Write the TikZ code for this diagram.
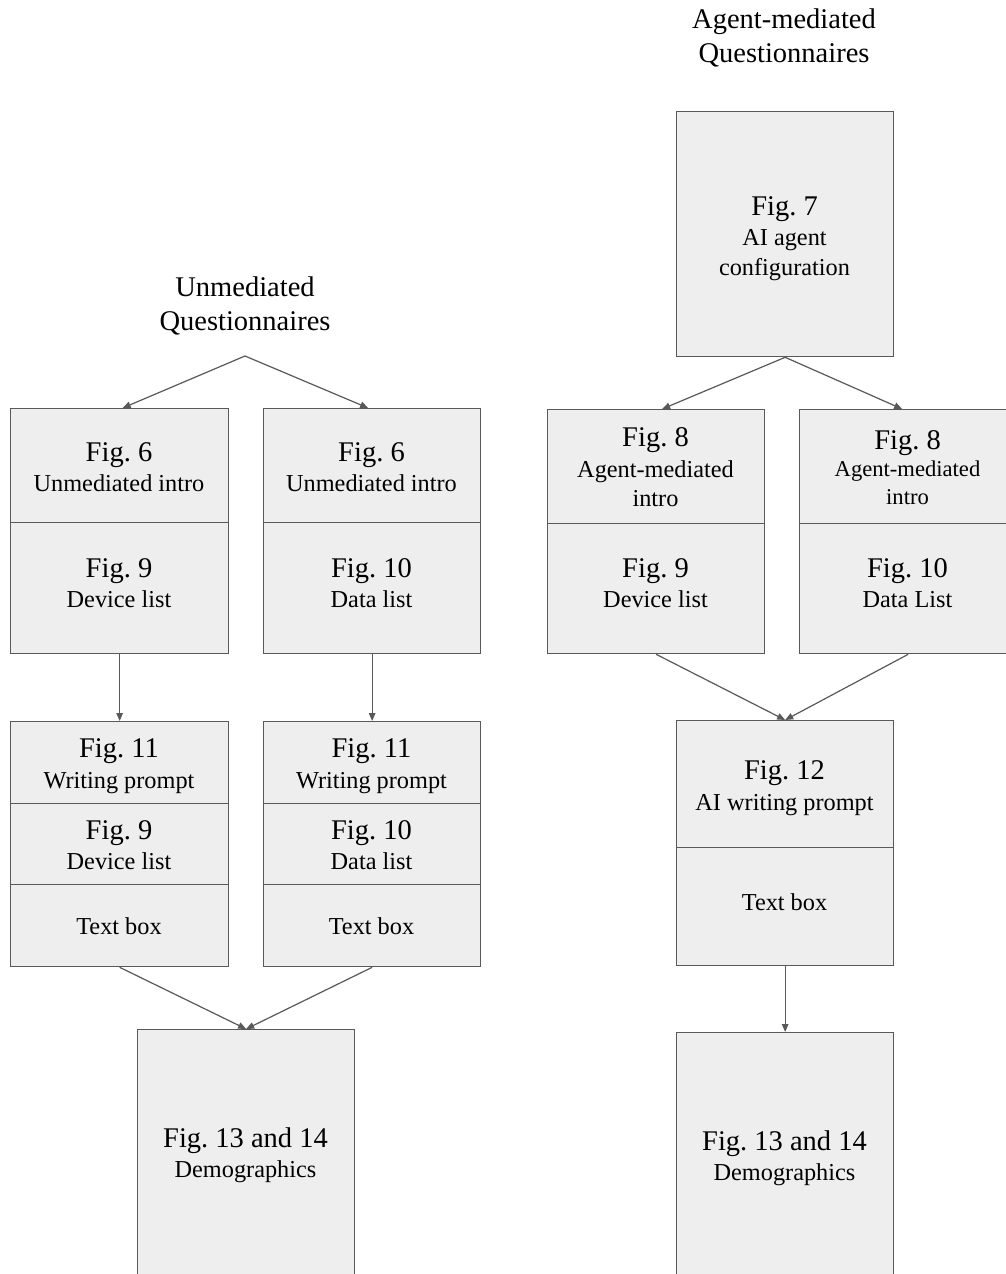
\documentclass[tikz,border=0pt]{standalone}
\usepackage{fontspec}
\setmainfont{Liberation Serif}
\usetikzlibrary{arrows.meta}
\definecolor{boxgray}{HTML}{EEEEEE}
\definecolor{linegray}{HTML}{595959}
\newcommand{\bigf}{\fontsize{28.5}{30}\selectfont\frenchspacing}
\newcommand{\smallf}{\fontsize{24.3}{30}\selectfont\frenchspacing}
\newcommand{\tinyf}{\fontsize{22.6}{28}\selectfont\frenchspacing}
\tikzset{
  sec/.style={draw=linegray, fill=boxgray, line width=1.3pt, inner sep=0pt, anchor=north west},
  txt/.style={anchor=base, inner sep=0pt, text=black},
  conn/.style={draw=linegray, line width=1.2pt, -{Triangle[length=8pt,width=6.5pt]}},
}
\begin{document}
\begin{tikzpicture}[x=1pt,y=-1pt]
\useasboundingbox[fill=white] (0,0) rectangle (1006,1274);

% ---------- Left column (Unmediated) ----------
\node[txt, font=\bigf] (ut1) at (245,296.7) {Unmediated};
\node[txt, font=\bigf] (ut2) at (245,330.7) {Questionnaires};
\coordinate (uapex) at (245,356);

\node[sec, minimum width=218pt, minimum height=114pt] (a1t) at (10,408) {};
\node[sec, minimum width=218pt, minimum height=131pt] (a1b) at (10,522) {};
\node[sec, minimum width=217pt, minimum height=114pt] (a2t) at (263,408) {};
\node[sec, minimum width=217pt, minimum height=131pt] (a2b) at (263,522) {};

\node[txt, font=\bigf] (a1t1) at (119,461.7) {Fig. 6};
\node[txt, font=\smallf] (a1t2) at (119,491) {Unmediated intro};
\node[txt, font=\bigf] (a1b1) at (119,577.3) {Fig. 9};
\node[txt, font=\smallf] (a1b2) at (119,607.7) {Device list};
\node[txt, font=\bigf] (a2t1) at (371.5,461.7) {Fig. 6};
\node[txt, font=\smallf] (a2t2) at (371.5,491) {Unmediated intro};
\node[txt, font=\bigf] (a2b1) at (371.5,577.3) {Fig. 10};
\node[txt, font=\smallf] (a2b2) at (371.5,607.7) {Data list};

\node[sec, minimum width=218pt, minimum height=82pt] (c1a) at (10,721) {};
\node[sec, minimum width=218pt, minimum height=81pt] (c1b) at (10,803) {};
\node[sec, minimum width=218pt, minimum height=82pt] (c1c) at (10,884) {};
\node[sec, minimum width=217pt, minimum height=82pt] (c2a) at (263,721) {};
\node[sec, minimum width=217pt, minimum height=81pt] (c2b) at (263,803) {};
\node[sec, minimum width=217pt, minimum height=82pt] (c2c) at (263,884) {};

\node[txt, font=\bigf] (c1a1) at (119,757.7) {Fig. 11};
\node[txt, font=\smallf] (c1a2) at (119,788.3) {Writing prompt};
\node[txt, font=\bigf] (c1b1) at (119,839.3) {Fig. 9};
\node[txt, font=\smallf] (c1b2) at (119,869.3) {Device list};
\node[txt, font=\smallf] (c1c1) at (119,934.7) {Text box};
\node[txt, font=\bigf] (c2a1) at (371.5,757.7) {Fig. 11};
\node[txt, font=\smallf] (c2a2) at (371.5,788.3) {Writing prompt};
\node[txt, font=\bigf] (c2b1) at (371.5,839.3) {Fig. 10};
\node[txt, font=\smallf] (c2b2) at (371.5,869.3) {Data list};
\node[txt, font=\smallf] (c2c1) at (371.5,934.7) {Text box};

\node[sec, minimum width=217pt, minimum height=260pt] (d1) at (137,1029) {};
\node[txt, font=\bigf] (d1a) at (245.5,1147.7) {Fig. 13 and 14};
\node[txt, font=\smallf] (d1b) at (245.5,1177.7) {Demographics};

% ---------- Right column (Agent-mediated) ----------
\node[txt, font=\bigf] (at1) at (784,28) {Agent-mediated};
\node[txt, font=\bigf] (at2) at (784,62.7) {Questionnaires};

\node[sec, minimum width=217pt, minimum height=245pt] (f7) at (676,111) {};
\node[txt, font=\bigf] (f7a) at (784.5,215) {Fig. 7};
\node[txt, font=\smallf] (f7b) at (784.5,245.7) {AI agent};
\node[txt, font=\smallf] (f7c) at (784.5,275) {configuration};

\node[sec, minimum width=217pt, minimum height=114pt] (b1t) at (547,409) {};
\node[sec, minimum width=217pt, minimum height=130pt] (b1b) at (547,523) {};
\node[sec, minimum width=217pt, minimum height=114pt] (b2t) at (799,409) {};
\node[sec, minimum width=217pt, minimum height=130pt] (b2b) at (799,523) {};

\node[txt, font=\bigf] (b1t1) at (655.5,446.7) {Fig. 8};
\node[txt, font=\smallf] (b1t2) at (655.5,477.3) {Agent-mediated};
\node[txt, font=\smallf] (b1t3) at (655.5,506.7) {intro};
\node[txt, font=\bigf] (b1b1) at (655.5,577.7) {Fig. 9};
\node[txt, font=\smallf] (b1b2) at (655.5,607.7) {Device list};
\node[txt, font=\bigf] (b2t1) at (907.5,449) {Fig. 8};
\node[txt, font=\tinyf] (b2t2) at (907.5,476.7) {Agent-mediated};
\node[txt, font=\tinyf] (b2t3) at (907.5,504.3) {intro};
\node[txt, font=\bigf] (b2b1) at (907.5,577.7) {Fig. 10};
\node[txt, font=\smallf] (b2b2) at (907.5,607.7) {Data List};

\node[sec, minimum width=217pt, minimum height=127pt] (g12a) at (676,720) {};
\node[sec, minimum width=217pt, minimum height=118pt] (g12b) at (676,847) {};
\node[txt, font=\bigf] (g12a1) at (784.5,779.3) {Fig. 12};
\node[txt, font=\smallf] (g12a2) at (784.5,810) {AI writing prompt};
\node[txt, font=\smallf] (g12b1) at (784.5,910.7) {Text box};

\node[sec, minimum width=217pt, minimum height=260pt] (d2) at (676,1032) {};
\node[txt, font=\bigf] (d2a) at (784.5,1150) {Fig. 13 and 14};
\node[txt, font=\smallf] (d2b) at (784.5,1180.7) {Demographics};

% ---------- Connectors ----------
\draw[conn] (uapex) -- ([xshift=3pt]a1t.north);
\draw[conn] (uapex) -- ([xshift=-4pt]a2t.north);
\draw[conn] (a1b.south) -- (c1a.north);
\draw[conn] (a2b.south) -- (c2a.north);
\draw[conn] (c1c.south) -- (d1.north);
\draw[conn] (c2c.south) -- (d1.north);

\draw[conn] (f7.south) -- ([xshift=6pt]b1t.north);
\draw[conn] (f7.south) -- ([xshift=-6pt]b2t.north);
\draw[conn] (b1b.south) -- (g12a.north);
\draw[conn] (b2b.south) -- (g12a.north);
\draw[conn] (g12b.south) -- (d2.north);
\end{tikzpicture}
\end{document}
